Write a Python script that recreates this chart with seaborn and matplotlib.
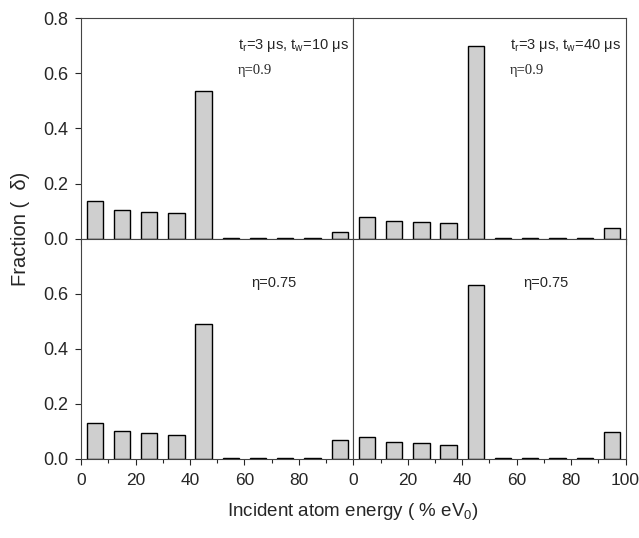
import matplotlib
matplotlib.use("Agg")
import matplotlib.pyplot as plt
import seaborn as sns
import pandas as pd

energy = [5, 15, 25, 35, 45, 55, 65, 75, 85, 95]
frac_tw10_eta09 = [0.135, 0.105, 0.097, 0.092, 0.537, 0.003, 0.003, 0.003, 0.003, 0.025]
frac_tw40_eta09 = [0.080, 0.065, 0.060, 0.055, 0.700, 0.002, 0.002, 0.002, 0.001, 0.037]
frac_tw10_eta075 = [0.130, 0.100, 0.093, 0.088, 0.490, 0.005, 0.005, 0.005, 0.005, 0.068]
frac_tw40_eta075 = [0.078, 0.060, 0.056, 0.052, 0.632, 0.002, 0.002, 0.002, 0.002, 0.097]

xticks_left = [0, 20, 40, 60, 80]
xticks_right = [0, 20, 40, 60, 80, 100]
yticks_top = [0.0, 0.2, 0.4, 0.6, 0.8]
yticks_bottom = [0.0, 0.2, 0.4, 0.6]

sns.set_style("ticks")
plt.rcParams['font.family'] = ['Liberation Sans', 'DejaVu Sans']

fig, axes = plt.subplots(2, 2, figsize=(6.39, 5.38), dpi=100)
fig.subplots_adjust(left=0.127, right=0.979, top=0.966, bottom=0.147, wspace=0, hspace=0)

tr = r"t$_\mathregular{r}$=3 $\mathregular{\mu}$s, "
panels = [
    (axes[0, 0], frac_tw10_eta09, tr + r"t$_\mathregular{w}$=10 $\mathregular{\mu}$s", "η=0.9"),
    (axes[0, 1], frac_tw40_eta09, tr + r"t$_\mathregular{w}$=40 $\mathregular{\mu}$s", "η=0.9"),
    (axes[1, 0], frac_tw10_eta075, None, "η=0.75"),
    (axes[1, 1], frac_tw40_eta075, None, "η=0.75"),
]

for ax, vals, label, eta in panels:
    df = pd.DataFrame({"energy": energy, "fraction": vals})
    sns.barplot(data=df, x="energy", y="fraction", native_scale=True, width=0.6,
                color="#cfcfcf", saturation=1, edgecolor="black", linewidth=1.0, ax=ax)
    ax.set_xlim(0, 100)
    ax.set_ylim(0, 0.8)
    ax.set_xlabel("")
    ax.set_ylabel("")
    for s in ax.spines.values():
        s.set_visible(True)
        s.set_linewidth(0.8)
        s.set_color("#444444")
    ax.set_xticks(range(10, 100, 20), minor=True)
    ax.tick_params(axis="x", labelsize=12.5, length=4, width=0.8, pad=6)
    ax.tick_params(axis="y", labelsize=13, length=4, width=0.8, pad=5)
    ax.tick_params(which="minor", length=3, width=0.8)
    if label:
        ax.text(57.5, 0.70, label, fontsize=10.5, va="center", ha="left")
        ax.text(57.5, 0.61, eta, fontsize=10.5, va="center", ha="left",
                family=["Liberation Serif", "DejaVu Serif"])
    else:
        ax.text(62.5, 0.64, eta, fontsize=10.5, va="center", ha="left")

# top row: no x labels
for ax in axes[0]:
    ax.set_xticks(xticks_right)
    ax.set_xticklabels([])
axes[1, 0].set_xticks(xticks_left)
axes[1, 0].set_xticklabels([str(t) for t in xticks_left])
axes[1, 1].set_xticks(xticks_right)
axes[1, 1].set_xticklabels([str(t) for t in xticks_right])

axes[0, 0].set_yticks(yticks_top)
axes[0, 0].set_yticklabels([f"{t:.1f}" for t in yticks_top])
axes[1, 0].set_yticks(yticks_bottom)
axes[1, 0].set_yticklabels([f"{t:.1f}" for t in yticks_bottom])
for ax in axes[:, 1]:
    ax.set_yticks(yticks_top)
    ax.set_yticklabels([])
    ax.tick_params(axis="y", length=0)
for ax in axes.flat:
    ax.set_xlim(0, 100)
    ax.set_ylim(0, 0.8)

fig.text(0.032, 0.574, "Fraction (  δ)", rotation=90, fontsize=14.5, va="center", ha="center")
fig.text(0.552, 0.05, r"Incident atom energy ( % eV$_\mathregular{0}$)", fontsize=13.5,
         va="center", ha="center")

fig.savefig("out.png", dpi=100)
